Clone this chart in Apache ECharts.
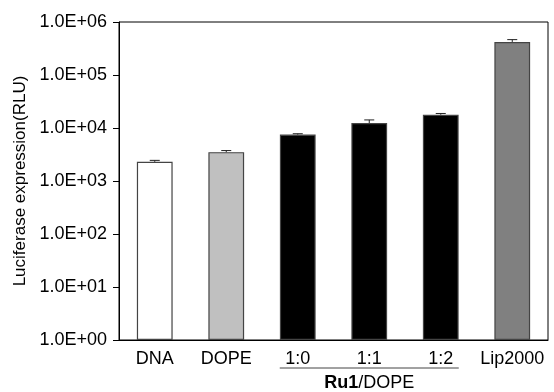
<!DOCTYPE html>
<html lang="en">
    <head>
        <meta charset="UTF-8" />
        <title>Luciferase expression</title>
        <script src="https://cdnjs.cloudflare.com/ajax/libs/echarts/6.0.0/echarts.min.js"></script>
        <style>
            html, body { margin: 0; padding: 0; background: #fff; }
            #chart { width: 554px; height: 392px; }
        </style>
    </head>

    <body>
        <div id="chart"></div>
        <script>
            // data
            const categories = ["DNA", "DOPE", "1:0", "1:1", "1:2", "Lip2000"];
            const values = [2300, 3500, 7500, 12400, 17800, 420000];
            const errors = [150, 250, 300, 1800, 1000, 45000];
            const barColors = ["#ffffff", "#c0c0c0", "#000000", "#000000", "#000000", "#808080"];
            const groupStart = 2, groupEnd = 4;

            const font = "Liberation Sans, Arial, sans-serif";
            const chart = echarts.init(document.getElementById("chart"));

            //format 10^n as 1.0E+0n
            function sciLabel(v) {
                const p = Math.round(Math.log10(v));
                return "1.0E+" + (p < 10 ? "0" + p : p);
            }

            chart.setOption({
                animation: false,
                grid: { left: 119, right: 6, top: 22, bottom: 52, show: true, borderColor: "#000", borderWidth: 1 },
                xAxis: {
                    type: "category",
                    data: categories,
                    axisLine: { lineStyle: { color: "#000" } },
                    axisTick: { show: false },
                    axisLabel: { color: "#000", fontFamily: font, fontSize: 18, margin: 10, interval: 0 },
                },
                yAxis: {
                    type: "log",
                    logBase: 10,
                    min: 1,
                    max: 1e6,
                    name: "Luciferase expression(RLU)",
                    nameLocation: "middle",
                    nameGap: 90,
                    nameTextStyle: { color: "#000", fontFamily: font, fontSize: 17 },
                    axisLine: { show: true, lineStyle: { color: "#000" } },
                    axisTick: { show: true, length: 6, lineStyle: { color: "#000" } },
                    splitLine: { show: false },
                    axisLabel: { color: "#000", fontFamily: font, fontSize: 18, margin: 12, formatter: sciLabel },
                },
                series: [
                    {
                        type: "bar",
                        barWidth: "50%",
                        data: values.map((v, i) => ({
                            value: v,
                            itemStyle: { color: barColors[i], borderColor: "#444", borderWidth: 1.2 },
                        })),
                    },
                    {
                        type: "custom",
                        z: 5,
                        data: values.map((v, i) => [i, v, v + errors[i]]),
                        renderItem: function(params, api) {
                            const base = api.coord([api.value(0), api.value(1)]);
                            const top = api.coord([api.value(0), api.value(2)]);
                            const x = base[0];
                            const style = { stroke: "#222", lineWidth: 1 };
                            return {
                                type: "group",
                                children: [
                                    { type: "line", shape: { x1: x, y1: base[1], x2: x, y2: top[1] }, style: style },
                                    { type: "line", shape: { x1: x - 5, y1: top[1], x2: x + 5, y2: top[1] }, style: style },
                                ],
                            };
                        },
                    },
                ],
            });

            //group label under 1:0 .. 1:2
            const left = chart.convertToPixel({ xAxisIndex: 0 }, groupStart);
            const right = chart.convertToPixel({ xAxisIndex: 0 }, groupEnd);
            const half = 18;
            chart.setOption({
                graphic: [
                    {
                        type: "line",
                        shape: { x1: left - half, y1: 368, x2: right + half, y2: 368 },
                        style: { stroke: "#444", lineWidth: 1 },
                    },
                    {
                        type: "text",
                        x: (left + right) / 2,
                        y: 383,
                        style: {
                            text: "{b|Ru1}/DOPE",
                            rich: { b: { fontWeight: "bold", fontSize: 18, fontFamily: font, fill: "#000" } },
                            fontFamily: font,
                            fontSize: 18,
                            fill: "#000",
                            align: "center",
                            verticalAlign: "middle",
                        },
                    },
                ],
            });
        </script>
    </body>
</html>
